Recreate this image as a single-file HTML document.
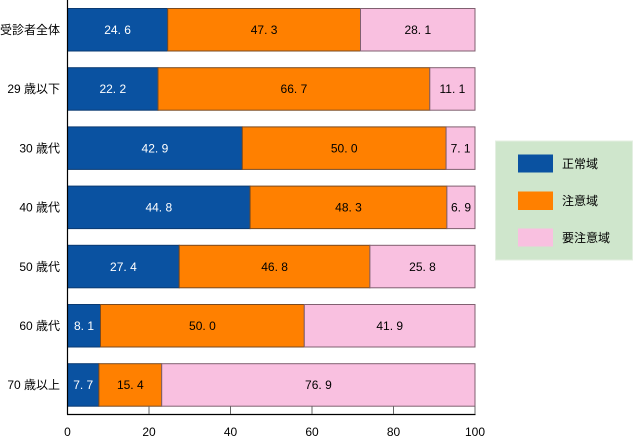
<!DOCTYPE html>
<html><head><meta charset="utf-8"><style>
html,body{margin:0;padding:0;background:#fff;}
svg{display:block;}
text{font-family:"Liberation Sans","Noto Sans CJK JP",sans-serif;font-size:12px;}
</style></head><body>
<svg width="633" height="438" viewBox="0 0 633 438" xmlns="http://www.w3.org/2000/svg">
<g id="bars">
<!-- row 0 -->
<rect x="67.5" y="8.5" width="100.2" height="42.5" fill="#0a52a1" stroke="#0a3a72" stroke-width="1"/>
<rect x="167.7" y="8.5" width="192.8" height="42.5" fill="#ff8000" stroke="#7a4a20" stroke-width="1"/>
<rect x="360.5" y="8.5" width="114.5" height="42.5" fill="#f9c0e0" stroke="#806070" stroke-width="1"/>
<!-- row 1 -->
<rect x="67.5" y="67.7" width="90.5" height="42.5" fill="#0a52a1" stroke="#0a3a72"/>
<rect x="158" y="67.7" width="271.8" height="42.5" fill="#ff8000" stroke="#7a4a20"/>
<rect x="429.8" y="67.7" width="45.2" height="42.5" fill="#f9c0e0" stroke="#806070"/>
<!-- row 2 -->
<rect x="67.5" y="126.9" width="174.8" height="42.5" fill="#0a52a1" stroke="#0a3a72"/>
<rect x="242.3" y="126.9" width="203.8" height="42.5" fill="#ff8000" stroke="#7a4a20"/>
<rect x="446.1" y="126.9" width="28.9" height="42.5" fill="#f9c0e0" stroke="#806070"/>
<!-- row 3 -->
<rect x="67.5" y="186.1" width="182.6" height="42.5" fill="#0a52a1" stroke="#0a3a72"/>
<rect x="250.1" y="186.1" width="196.8" height="42.5" fill="#ff8000" stroke="#7a4a20"/>
<rect x="446.9" y="186.1" width="28.1" height="42.5" fill="#f9c0e0" stroke="#806070"/>
<!-- row 4 -->
<rect x="67.5" y="245.3" width="111.7" height="42.5" fill="#0a52a1" stroke="#0a3a72"/>
<rect x="179.2" y="245.3" width="190.7" height="42.5" fill="#ff8000" stroke="#7a4a20"/>
<rect x="369.9" y="245.3" width="105.1" height="42.5" fill="#f9c0e0" stroke="#806070"/>
<!-- row 5 -->
<rect x="67.5" y="304.5" width="33" height="42.5" fill="#0a52a1" stroke="#0a3a72"/>
<rect x="100.5" y="304.5" width="203.8" height="42.5" fill="#ff8000" stroke="#7a4a20"/>
<rect x="304.3" y="304.5" width="170.7" height="42.5" fill="#f9c0e0" stroke="#806070"/>
<!-- row 6 -->
<rect x="67.5" y="363.7" width="31.4" height="42.5" fill="#0a52a1" stroke="#0a3a72"/>
<rect x="98.9" y="363.7" width="62.8" height="42.5" fill="#ff8000" stroke="#7a4a20"/>
<rect x="161.7" y="363.7" width="313.3" height="42.5" fill="#f9c0e0" stroke="#806070"/>
</g>
<g id="vals" text-anchor="middle">
<text x="117.6" y="34" fill="#fff">24. 6</text>
<text x="264.1" y="34" fill="#000">47. 3</text>
<text x="417.8" y="34" fill="#000">28. 1</text>
<text x="112.8" y="93.2" fill="#fff">22. 2</text>
<text x="293.9" y="93.2" fill="#000">66. 7</text>
<text x="452.4" y="93.2" fill="#000">11. 1</text>
<text x="154.9" y="152.4" fill="#fff">42. 9</text>
<text x="344.2" y="152.4" fill="#000">50. 0</text>
<text x="460.6" y="152.4" fill="#000">7. 1</text>
<text x="158.8" y="211.6" fill="#fff">44. 8</text>
<text x="348.5" y="211.6" fill="#000">48. 3</text>
<text x="461" y="211.6" fill="#000">6. 9</text>
<text x="123.4" y="270.8" fill="#fff">27. 4</text>
<text x="274.6" y="270.8" fill="#000">46. 8</text>
<text x="422.5" y="270.8" fill="#000">25. 8</text>
<text x="84" y="330" fill="#fff">8. 1</text>
<text x="202.4" y="330" fill="#000">50. 0</text>
<text x="389.7" y="330" fill="#000">41. 9</text>
<text x="83.2" y="389.2" fill="#fff">7. 7</text>
<text x="130.3" y="389.2" fill="#000">15. 4</text>
<text x="318.4" y="389.2" fill="#000">76. 9</text>
</g>
<g id="cats" text-anchor="end" fill="#000">
<text x="60" y="34">受診者全体</text>
<text x="60" y="93.2">29 歳以下</text>
<text x="60" y="152.4">30 歳代</text>
<text x="60" y="211.6">40 歳代</text>
<text x="60" y="270.8">50 歳代</text>
<text x="60" y="330">60 歳代</text>
<text x="60" y="389.2">70 歳以上</text>
</g>
<g id="axes">
<line x1="67.5" y1="0" x2="67.5" y2="414.5" stroke="#000" stroke-width="1.2"/>
<line x1="67" y1="414.5" x2="475.5" y2="414.5" stroke="#000" stroke-width="1.2"/>
<g stroke="#666" stroke-width="1">
<line x1="149" y1="406" x2="149" y2="414"/>
<line x1="230.5" y1="406" x2="230.5" y2="414"/>
<line x1="312" y1="406" x2="312" y2="414"/>
<line x1="393.5" y1="406" x2="393.5" y2="414"/>
<line x1="475" y1="406" x2="475" y2="414"/>
</g>
<g text-anchor="middle" fill="#000">
<text x="67.5" y="436">0</text>
<text x="149" y="436">20</text>
<text x="230.5" y="436">40</text>
<text x="312" y="436">60</text>
<text x="393.5" y="436">80</text>
<text x="475" y="436">100</text>
</g>
</g>
<g id="legend">
<rect x="495.5" y="141" width="137" height="119" fill="#cfe6cc" stroke="#e4efe2"/>
<rect x="518" y="154.5" width="35" height="18" fill="#0a52a1"/>
<rect x="518" y="191.5" width="35" height="18.5" fill="#ff8000"/>
<rect x="518" y="228.5" width="35" height="18" fill="#f9c0e0"/>
<text x="562" y="168">正常域</text>
<text x="562" y="205">注意域</text>
<text x="562" y="242">要注意域</text>
</g>
</svg>
</body></html>
